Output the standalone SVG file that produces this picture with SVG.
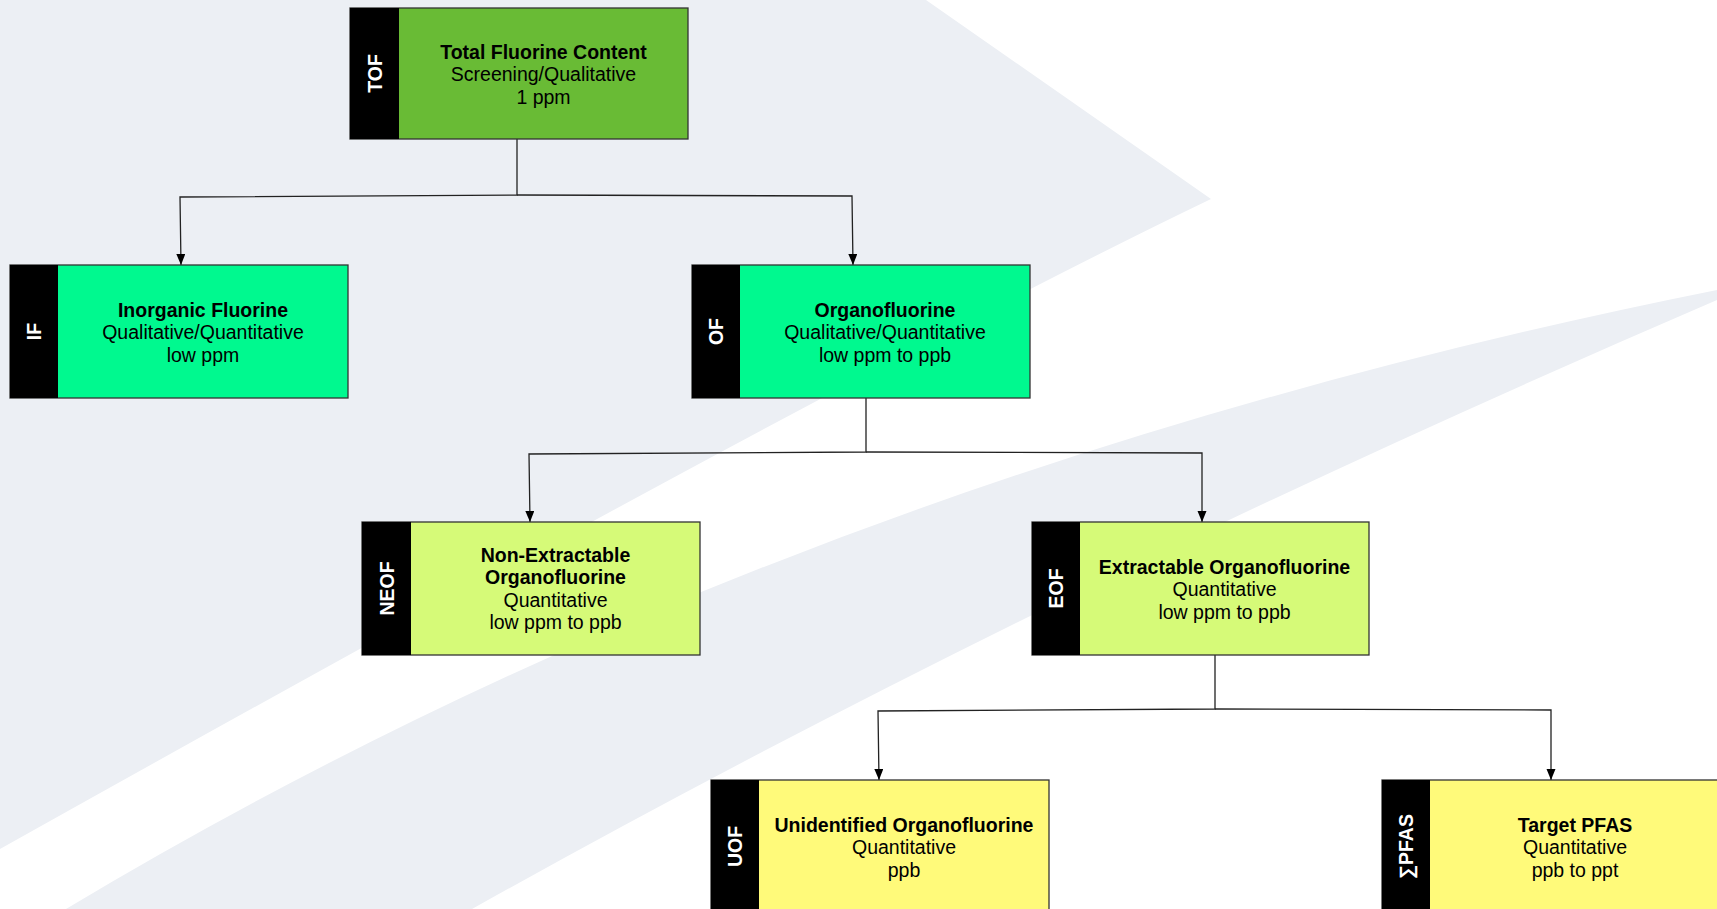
<svg xmlns="http://www.w3.org/2000/svg" width="1717" height="909" viewBox="0 0 1717 909">
<defs>
<marker id="arrow" markerUnits="userSpaceOnUse" markerWidth="12" markerHeight="10" refX="11" refY="4.5" orient="auto">
<path d="M0,0 L11,4.5 L0,9 z" fill="#000"/>
</marker>
</defs>
<style>
.box{stroke:#333;stroke-width:1.3}
.strip{fill:#000}
.t{font-family:"Liberation Sans",Arial,Helvetica,sans-serif;font-size:19.5px;fill:#000;text-anchor:middle}
.b{font-weight:700}
.lab{font-family:"Liberation Sans",Arial,Helvetica,sans-serif;font-size:19.5px;font-weight:700;fill:#fff;text-anchor:middle}
.c{fill:none;stroke:#222;stroke-width:1.3}
.bg{fill:#ECEFF4}
</style>
<rect x="0" y="0" width="1717" height="909" fill="#fff"/>
<g id="background">
<path class="bg" d="M0,0 L926,0 L1211,199 Q859,368 0,849 Z"/>
<path class="bg" d="M1717,290 Q788,476 66,909 L472,909 Q1038,592 1717,300 Z"/>
</g>
<g id="connectors">
<path class="c" d="M517,139 V195 L180,197 L181,265" marker-end="url(#arrow)"/>
<path class="c" d="M517,195 L852,196 L853,265" marker-end="url(#arrow)"/>
<path class="c" d="M866,398 V452 L529,454 L530,522" marker-end="url(#arrow)"/>
<path class="c" d="M866,452 L1202,453 L1202,522" marker-end="url(#arrow)"/>
<path class="c" d="M1215,655 V709 L878,711 L879,780" marker-end="url(#arrow)"/>
<path class="c" d="M1215,709 L1551,710 L1551,780" marker-end="url(#arrow)"/>
</g>
<g id="TOF">
<rect class="box" x="350" y="8" width="338" height="131" fill="#69BB35"/>
<rect class="strip" x="350" y="8" width="49" height="131"/>
<text class="lab" transform="translate(382,73.5) rotate(-90)">TOF</text>
<text class="t b" x="543.5" y="58.5">Total Fluorine Content</text>
<text class="t" x="543.5" y="81">Screening/Qualitative</text>
<text class="t" x="543.5" y="103.5">1 ppm</text>
</g>
<g id="IF">
<rect class="box" x="10" y="265" width="338" height="133" fill="#00F98F"/>
<rect class="strip" x="10" y="265" width="48" height="133"/>
<text class="lab" transform="translate(41,331.5) rotate(-90)">IF</text>
<text class="t b" x="203" y="316.5">Inorganic Fluorine</text>
<text class="t" x="203" y="339">Qualitative/Quantitative</text>
<text class="t" x="203" y="361.5">low ppm</text>
</g>
<g id="OF">
<rect class="box" x="692" y="265" width="338" height="133" fill="#00F98F"/>
<rect class="strip" x="692" y="265" width="48" height="133"/>
<text class="lab" transform="translate(723,331.5) rotate(-90)">OF</text>
<text class="t b" x="885" y="316.5">Organofluorine</text>
<text class="t" x="885" y="339">Qualitative/Quantitative</text>
<text class="t" x="885" y="361.5">low ppm to ppb</text>
</g>
<g id="NEOF">
<rect class="box" x="362" y="522" width="338" height="133" fill="#D6FA78"/>
<rect class="strip" x="362" y="522" width="49" height="133"/>
<text class="lab" transform="translate(393.5,588.5) rotate(-90)">NEOF</text>
<text class="t b" x="555.5" y="561.5">Non-Extractable</text>
<text class="t b" x="555.5" y="584">Organofluorine</text>
<text class="t" x="555.5" y="606.5">Quantitative</text>
<text class="t" x="555.5" y="629">low ppm to ppb</text>
</g>
<g id="EOF">
<rect class="box" x="1032" y="522" width="337" height="133" fill="#D6FA78"/>
<rect class="strip" x="1032" y="522" width="48" height="133"/>
<text class="lab" transform="translate(1063,588.5) rotate(-90)">EOF</text>
<text class="t b" x="1224.5" y="573.5">Extractable Organofluorine</text>
<text class="t" x="1224.5" y="596">Quantitative</text>
<text class="t" x="1224.5" y="618.5">low ppm to ppb</text>
</g>
<g id="UOF">
<rect class="box" x="711" y="780" width="338" height="133" fill="#FFFA7A"/>
<rect class="strip" x="711" y="780" width="48" height="133"/>
<text class="lab" transform="translate(742,846.5) rotate(-90)">UOF</text>
<text class="t b" x="904" y="831.5">Unidentified Organofluorine</text>
<text class="t" x="904" y="854">Quantitative</text>
<text class="t" x="904" y="876.5">ppb</text>
</g>
<g id="PFAS">
<rect class="box" x="1382" y="780" width="338" height="133" fill="#FFFA7A"/>
<rect class="strip" x="1382" y="780" width="48" height="133"/>
<text class="lab" transform="translate(1413,846.5) rotate(-90)">∑PFAS</text>
<text class="t b" x="1575" y="831.5">Target PFAS</text>
<text class="t" x="1575" y="854">Quantitative</text>
<text class="t" x="1575" y="876.5">ppb to ppt</text>
</g>
</svg>
